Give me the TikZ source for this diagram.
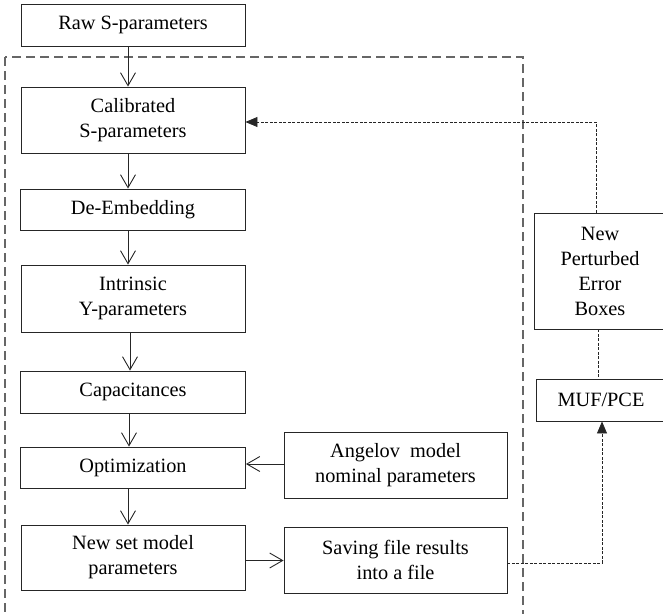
\documentclass[tikz,border=0pt]{standalone}
\usepackage{fontspec}
\setmainfont{Liberation Serif}
\usetikzlibrary{arrows.meta}
\begin{document}
\begin{tikzpicture}[x=1pt,y=-1pt,
  box/.style={draw=black!85,line width=0.9pt,rectangle,inner sep=0pt,align=center,
    font=\fontsize{20.3}{25}\selectfont},
  flow/.style={draw=black!85,line width=0.9pt,-{Straight Barb[length=13pt,width=15pt,line width=0.9pt]}},
  fb/.style={draw=black!85,line width=0.8pt,dash pattern=on 3pt off 1.5pt},
  fbarrow/.style={fb,-{Triangle[length=12pt,width=10pt]}},
  frame/.style={draw=black!60,line width=1.4pt,dash pattern=on 9pt off 5pt}]
\useasboundingbox (0,0) rectangle (663,613);
\clip (0,0) rectangle (663,613);
\draw[frame] (5,57) rectangle (523,660);
\node[box,minimum width=224pt,minimum height=42pt] (raw) at (133,25) {Raw S-parameters};
\node[box,minimum width=224pt,minimum height=66pt] (cal) at (133,120) {Calibrated\\S-parameters};
\node[box,minimum width=225pt,minimum height=41pt] (de) at (133,209.5) {De-Embedding};
\node[box,minimum width=224pt,minimum height=67pt] (intr) at (133,298.5) {Intrinsic\\Y-parameters};
\node[box,minimum width=225pt,minimum height=42pt] (cap) at (133,392) {Capacitances};
\node[box,minimum width=225pt,minimum height=41pt] (opt) at (133,467.5) {Optimization};
\node[box,minimum width=224pt,minimum height=65pt] (ns) at (133,557.5) {New set model\\parameters};
\node[box,minimum width=223pt,minimum height=66pt] (ang) at (395.5,465) {Angelov\ \ model\\nominal parameters};
\node[box,minimum width=223pt,minimum height=66pt] (sav) at (395.5,560) {Saving\ file\ results\\into a file};
\node[box,minimum width=132pt,minimum height=116pt] (pert) at (600,271) {New\\Perturbed\\Error\\Boxes};
\node[box,minimum width=130pt,minimum height=42pt] (muf) at (601,400) {MUF/PCE};
\draw[flow] ([xshift=-5pt]raw.south) -- ([xshift=-5pt]cal.north);
\draw[flow] ([xshift=-5pt]cal.south) -- ([xshift=-5pt]de.north);
\draw[flow] ([xshift=-5pt]de.south) -- ([xshift=-5pt]intr.north);
\draw[flow] ([xshift=-3pt]intr.south) -- ([xshift=-3pt]cap.north);
\draw[flow] ([xshift=-4pt]cap.south) -- ([xshift=-4pt]opt.north);
\draw[flow] ([xshift=-5pt]opt.south) -- ([xshift=-5pt]ns.north);
\draw[flow] ([yshift=1pt]ang.west) -- ([yshift=1pt]ang.west -| opt.east);
\draw[flow] ([yshift=-3pt]ns.east) -- ([yshift=-3pt]ns.east -| sav.west);
\draw[fbarrow] ([yshift=-3pt]sav.east) -| ([xshift=1pt]muf.south);
\draw[fbarrow] ([xshift=-4pt]pert.north) |- ([yshift=-2pt]cal.east);
\draw[fb] ([xshift=-2pt]pert.south) -- ([xshift=-3pt]muf.north);
\end{tikzpicture}
\end{document}
